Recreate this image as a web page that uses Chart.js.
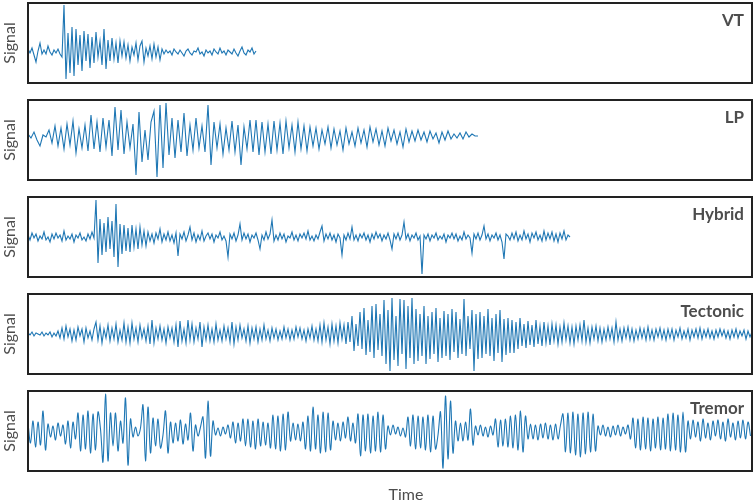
<!DOCTYPE html>
<html>
<head>
<meta charset="utf-8" />
<title>Seismic event classes</title>
<style>
  body { margin: 0; background: #fff; }
  #wrap { position: relative; width: 754px; height: 503px; }
  #wrap canvas { position: absolute; left: 0; }
</style>
</head>
<body>
<div id="wrap">
  <canvas id="c0" width="754" height="97" style="top:0px"></canvas>
  <canvas id="c1" width="754" height="97" style="top:97px"></canvas>
  <canvas id="c2" width="754" height="97" style="top:194px"></canvas>
  <canvas id="c3" width="754" height="97" style="top:291px"></canvas>
  <canvas id="c4" width="754" height="115" style="top:388px"></canvas>
</div>
<script src="https://cdn.jsdelivr.net/npm/chart.js@4.4.1/dist/chart.umd.min.js"></script>
<script>
const panelNames = ["VT", "LP", "Hybrid", "Tectonic", "Tremor"];
const timeSpan = 724;

// VT, one value every 2 time units
const vtStep = 2;
const vtSignal = [
  -6,-10,-5,-12,-19,-8,0,-11,-7,-11,-3,-9,-12,-7,-10,-6,-11,
  -14,38,-36,10,-30,16,-33,14,-22,8,-28,12,-18,9,-25,6,-20,11,-14,2,
  -22,14,-26,3,-18,5,-16,0,-20,2,-13,1,-15,-2,-18,-4,-12,0,-17,-3,
  2,-19,-5,-13,-3,-16,-1,-14,-4,-17,-6,
  -11,-7,-10,-8,-12,-6,-9,-11,-7,-10,-13,-8,-6,-10,-12,-8,-9,-5,-11,-9,
  -13,-7,-10,-8,-12,-6,-9,-11,-5,-10,-8,-12,-7,-9,-11,-6,-10,-13,-8,-4,
  -10,-12,-7,-9,-5,-11,-8
];

// LP, one value every 3 time units
const lpStep = 3;
const lpSignal = [
  6,2,8,0,-6,5,3,
  10,-3,14,-6,12,-9,16,-5,19,-13,11,-8,15,
  -11,25,-9,18,-12,22,-7,20,
  -16,33,-10,30,-14,18,-8,16,
  -35,28,-22,10,-20,18,29,-37,
  35,-28,37,-15,22,-18,20,-12,
  27,-16,15,-10,22,-8,14,-12,
  35,-25,18,-8,16,-14,12,-10,
  19,-12,15,-25,13,-9,20,-12,
  20,-15,18,-12,16,-14,19,-10,
  17,-14,19,-8,15,-12,18,-9,14,-11,
  13,-6,12,-9,10,-4,13,-8,11,-5,9,-10,12,-4,8,-6,
  12,-3,10,-7,13,-2,11,-5,9,-6,12,-1,10,-4,8,-7,11,-2,9,
  -1,10,0,8,-2,9,1,7,-3,8,0,9,1,6,
  2,7,1,8,3,6,4,4
];

// Hybrid, one value every 2 time units
const hybridStep = 2;
const hybridSignal = [
  2,-3,4,-1,3,-4,1,-2,5,-3,0,-5,3,-2,4,-1,2,-4,6,-3,1,-2,3,-5,2,-1,4,-3,0,-4,3,-2,5,-1,
  37,-26,18,-18,14,-15,20,-12,16,-20,33,-30,13,-17,12,-14,9,-15,12,-10,8,-12,10,-8,6,-9,
  5,-4,3,-6,4,-2,
  8,-5,3,-3,5,-4,2,-6,4,-19,3,-2,5,-4,2,10,-3,4,-5,2,-3,6,-4,1,
  4,-2,3,-5,2,-1,5,-3,1,-4,
  -20,3,-2,4,-4,2,13,-3,4,-2,
  3,-5,2,-1,4,-3,
  -12,2,-3,5,-2,3,17,-4,2,-3,
  4,-2,3,-5,1,-1,5,-3,2,-4,3,-1,4,-2,6,-3,1,-4,2,-2,5,
  11,-4,3,-2,4,-3,2,-5,3,-1,-18,2,-3,4,-2,10,-3,2,-4,3,
  -1,4,-3,2,-5,3,-2,5,-1,3,-4,2,-2,4,-3,
  -12,3,-2,4,-3,2,15,-2,3,-4,2,-1,4,-3,1,-37,2,-2,
  3,-4,2,-1,4,-3,1,-2,3,-5,2,-1,4,-2,3,-4,1,-3,5,-2,2,-1,
  -16,3,-2,4,-3,2,11,-2,3,-4,2,-1,4,-3,2,-5,-22,3,
  1,-3,4,-2,5,-4,2,-3,6,-2,3,-5,4,-1,5,-3,2,-4,6,-3,4,-2,5,-4,3,-5,4,-2,6,-3,2,0
];

// Tectonic, one value every 2 time units
const tectonicStep = 2;
const tectonicSignal = [
  1,-1,2,-2,1,0,-1,2,-2,1,-1,2,-3,1,-2,3,
  -4,6,-5,8,-3,5,-7,4,-6,7,-2,5,-8,6,-4,3,-6,5,
  12,-6,8,-9,5,-4,9,-7,6,-5,10,-8,4,-6,11,-8,
  7,-9,11,-5,6,-8,9,-4,5,-7,8,-10,14,-9,6,-5,
  8,-6,5,-9,7,-4,6,-8,9,-13,13,-7,5,-9,14,-6,
  10,-8,6,-5,12,-13,7,-6,9,-7,5,-8,10,-6,4,-7,
  8,-5,6,-8,12,-10,7,-6,9,-4,5,-7,8,-9,6,-5,
  7,-8,5,-6,9,-5,4,-7,6,-4,5,-6,3,-5,7,-4,
  5,-6,4,-5,7,-3,6,-5,4,-7,5,-4,8,-6,5,-7,
  9,-8,11,-6,7,-10,10,-7,8,-9,11,-5,9,-10,12,-8,
  18,-17,10,-12,22,-15,26,-21,14,-18,28,-24,30,-16,20,-22,
  34,-30,24,-37,36,-26,18,-32,35,-20,34,-35,28,-24,36,-30,
  25,-27,20,-22,28,-30,18,-25,22,-20,26,-28,16,-24,23,-22,
  20,-26,25,-18,22,-24,15,-20,35,-22,18,-15,24,-37,20,-25,
  22,-24,18,-20,25,-22,16,-27,20,-19,24,-28,15,-21,16,-19,
  14,-19,12,-15,16,-12,10,-14,13,-11,9,-13,14,-10,8,-12,
  12,-9,8,-11,10,-7,9,-10,7,-8,11,-6,8,-9,7,-10,
  8,-6,9,-7,14,-8,6,-9,7,-5,8,-7,6,-8,5,-6,
  7,-5,6,-8,12,-6,5,-7,6,-4,7,-6,5,-7,4,-5,
  6,-4,5,-6,7,-5,4,-6,5,-3,6,-5,4,-6,5,-4,
  5,-6,4,-3,6,-5,3,-4,5,-6,4,-3,5,-4,6,-5,
  4,-3,5,-4,3,-5,4,-3,5,-2,4,-4,3,-5,4,-3,5,-4,3,-2,4,-5,3,-3,2
];

// Tremor, one value every 2.5 time units
const tremorStep = 2.5;
const tremorSignal = [
  8,-12,10,-16,9,-14,20,-19,
  7,-6,5,-9,8,-5,6,-13,
  10,-17,9,-8,18,-20,16,-18,
  20,-22,17,-19,19,2,-31,37,
  -30,18,-15,18,-20,10,-12,33,
  -34,12,-6,4,-5,3,26,-30,
  24,-22,13,-15,12,-17,-4,20,
  -22,9,-12,8,-10,11,-13,7,
  -9,18,-20,6,-5,4,14,-27,
  30,-25,10,-4,3,-5,4,-3,
  6,-7,9,-12,8,-10,12,-15,
  12,-16,10,-18,12,-15,9,-14,
  8,-17,16,-18,15,-20,17,-19,
  19,-10,8,-9,7,-10,9,-18,
  15,-20,24,-18,16,-22,19,-21,
  18,-19,10,-9,8,-10,9,-7,
  14,-10,8,-12,17,-25,16,-20,
  17,-22,15,-20,19,-21,16,-18,
  5,-4,6,-3,4,-5,3,-6,
  14,-15,16,-18,15,-17,14,-19,
  16,-21,15,-18,-4,19,-37,35,
  -28,30,-22,10,-10,8,-10,9,
  -9,22,-14,5,-4,6,-5,4,
  -6,5,-4,12,-16,11,-15,12,
  -16,15,-17,16,-19,20,-21,15,
  -8,7,-8,6,-9,7,-7,8,
  -8,6,-9,7,-8,6,17,-21,
  18,-22,19,-24,17,-26,18,-23,
  19,-21,17,-20,5,-4,6,-5,
  4,-6,5,-4,6,-5,4,-3,
  6,-8,13,-17,12,-19,14,-18,
  13,-20,12,-17,14,-19,13,-18,
  17,-20,18,-19,16,-21,19,-21,
  10,-8,11,-6,9,-10,12,-7,
  8,-9,10,-5,11,-8,9,-10,
  12,-6,8,-9,10,-7,11,-8,
  9,-5
];

const lineColor = "#1f77b4";
const textColor = "#4d4d4d";

// box round the plot area, the class name, and "Time" under the last panel
const panelFrame = {
  id: "panelFrame",
  afterDatasetsDraw(chart, args, opts) {
    const a = chart.chartArea;
    const ctx = chart.ctx;
    ctx.save();
    ctx.strokeStyle = "#222";
    ctx.lineWidth = 2;
    ctx.strokeRect(a.left, a.top, a.right - a.left, a.bottom - a.top);
    ctx.font = "bold 17px Lato";
    ctx.fillStyle = textColor;
    ctx.textAlign = "right";
    ctx.textBaseline = "alphabetic";
    ctx.fillText(opts.name, a.right - 8, a.top + 23);
    if (opts.xLabel) {
      ctx.font = "16px Lato";
      ctx.textAlign = "center";
      ctx.textBaseline = "middle";
      ctx.fillText(opts.xLabel, 406, a.bottom + 24);
    }
    ctx.restore();
  },
};

function makePanel(idx, values, step, tension) {
  const last = idx === panelNames.length - 1;
  return new Chart(document.getElementById("c" + idx), {
    type: "line",
    data: {
      datasets: [
        {
          data: values.map((v, i) => ({ x: i * step, y: v })),
          borderColor: lineColor,
          borderWidth: 1.1,
          pointRadius: 0,
          tension: tension,
        },
      ],
    },
    options: {
      responsive: false,
      animation: false,
      events: [],
      layout: { padding: { top: 3, right: 2, bottom: last ? 32 : 14, left: 0 } },
      plugins: {
        legend: { display: false },
        tooltip: { enabled: false },
        panelFrame: { name: panelNames[idx], xLabel: last ? "Time" : null },
      },
      scales: {
        x: { type: "linear", min: 0, max: timeSpan, display: false },
        y: {
          min: -40,
          max: 40,
          ticks: { display: false },
          grid: { display: false, drawTicks: false },
          border: { display: false },
          title: {
            display: true,
            text: "Signal",
            color: textColor,
            font: { family: "Lato", size: 16 },
            padding: { top: 0, bottom: 0 },
          },
          afterFit: (s) => { s.width = 28; },
        },
      },
    },
    plugins: [panelFrame],
  });
}

makePanel(0, vtSignal, vtStep, 0);
makePanel(1, lpSignal, lpStep, 0);
makePanel(2, hybridSignal, hybridStep, 0);
makePanel(3, tectonicSignal, tectonicStep, 0);
makePanel(4, tremorSignal, tremorStep, 0.35);
</script>
</body>
</html>
